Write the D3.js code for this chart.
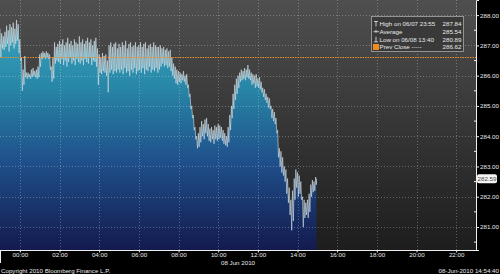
<!DOCTYPE html>
<html><head><meta charset="utf-8">
<script src="https://cdn.jsdelivr.net/npm/d3@7"></script>
<style>html,body{margin:0;padding:0;background:#000;overflow:hidden}svg{display:block}</style>
</head><body><svg id="c" width="500" height="274"></svg>
<script>
// ---- data (5-minute buckets starting 2010-06-07 23:00) ----
const startTime = "2010-06-07T23:00:00";
const stepMinutes = 5;
const highs = [
 287.55,287.40,287.30,287.45,287.65,287.50,287.70,287.60,287.75,287.55,287.84,287.70,
 287.20,286.60,286.20,286.65,286.10,286.10,286.05,286.20,286.25,286.15,286.20,286.30,
 286.70,286.75,286.80,286.75,286.80,286.75,286.70,286.30,286.60,287.10,286.95,287.05,
 287.15,287.05,287.20,287.00,287.10,287.25,287.05,287.15,287.00,287.20,287.10,287.05,
 287.30,287.10,287.20,287.05,287.15,287.25,287.10,287.20,287.00,287.15,287.25,286.90,
 286.70,286.60,286.75,286.65,286.70,286.50,287.00,287.10,286.95,287.05,287.10,286.90,
 287.05,286.95,287.10,287.00,287.15,286.90,287.05,287.10,286.95,287.00,287.10,286.95,
 287.00,287.10,286.95,287.05,287.10,286.90,287.00,287.05,286.95,287.10,287.00,286.95,
 286.95,287.00,286.90,286.95,286.85,286.90,286.80,286.85,286.60,286.40,286.30,286.20,
 286.15,286.10,286.05,286.15,286.00,286.05,285.70,285.40,285.00,284.70,284.30,284.00,
 284.10,284.30,284.50,284.40,284.55,284.60,284.40,284.25,284.30,284.20,284.35,284.30,
 284.40,284.35,284.30,284.20,284.10,284.00,284.30,284.70,285.00,285.40,285.70,285.90,
 286.00,286.10,286.20,286.15,286.25,286.20,286.35,286.20,286.10,286.05,286.00,286.05,
 285.90,285.95,285.80,285.60,285.55,285.40,285.30,285.25,285.00,284.90,284.80,284.60,
 284.20,283.60,283.50,283.30,283.00,282.90,282.60,282.30,281.90,282.20,282.60,282.90,
 282.80,282.70,282.50,282.00,281.90,281.80,281.90,282.10,282.40,282.55,282.50,282.65
];
const lows = [
 286.60,286.90,286.85,286.95,287.05,286.80,287.00,287.10,286.90,287.05,287.15,286.75,
 286.50,285.50,285.70,285.95,285.90,285.95,285.90,285.95,286.00,285.95,285.90,285.95,
 286.30,286.55,286.60,286.55,286.60,286.55,286.20,285.80,285.90,286.40,286.50,286.45,
 286.40,286.55,286.35,286.50,286.30,286.45,286.60,286.40,286.50,286.35,286.55,286.45,
 286.40,286.50,286.35,286.55,286.45,286.40,286.60,286.35,286.50,286.45,286.30,285.70,
 286.10,286.05,286.15,286.10,286.00,285.45,286.10,286.20,286.05,286.15,286.10,286.20,
 286.10,286.20,286.05,286.25,286.10,286.15,286.00,286.20,286.10,286.25,286.05,286.15,
 286.20,286.10,286.25,286.05,286.20,286.15,286.30,286.10,286.20,286.15,286.25,286.10,
 286.20,286.30,286.40,286.30,286.35,286.25,286.30,286.15,286.00,285.90,285.75,285.70,
 285.80,285.75,285.85,285.80,285.70,285.60,285.30,284.90,284.60,284.20,283.90,283.60,
 283.65,283.80,284.00,283.90,284.10,284.00,283.85,283.80,283.90,283.75,283.90,283.85,
 283.90,283.95,283.85,283.75,283.70,283.65,283.80,284.20,284.60,284.90,285.20,285.40,
 285.60,285.80,285.85,285.90,285.85,285.95,285.90,285.85,285.70,285.75,285.60,285.65,
 285.60,285.55,285.45,285.30,285.20,285.10,284.95,284.90,284.60,284.50,284.40,284.10,
 283.30,283.00,282.80,282.70,282.50,282.10,281.80,281.40,280.89,281.20,281.90,282.30,
 282.00,282.10,281.90,281.00,281.30,281.40,281.30,281.50,282.00,282.15,282.20,282.40
];
const lastPrice = 282.59;
const prevClose = 286.62;
const yTickValues = [281, 282, 283, 284, 285, 286, 287, 288];
const yMinorValues = [280.5, 281.5, 282.5, 283.5, 284.5, 285.5, 286.5, 287.5];
const xDomain = ["2010-06-07T23:00:00", "2010-06-08T23:00:00"];
const legendLabels = ["High on 06/07 23:55", "Average", "Low on 06/08 13:40", "Prev Close -----"];
const legendValues = ["287.84", "285.54", "280.89", "286.62"];
const dateLabel = "08 Jun 2010";
const copyrightText = "Copyright 2010 Bloomberg Finance L.P.";
const stampText = "08-Jun-2010 14:54:40";

// ---- layout ----
const W = 476, H = 250;
const svg = d3.select("#c");
const FONT = "'Liberation Sans', Arial, sans-serif";
const FS = 6.2;

const x = d3.scaleTime().domain(xDomain.map(d => new Date(d))).range([0, W]);
const y = d3.scaleLinear().domain([280.24, 288.5]).range([H, 0]);

const t0 = new Date(startTime);
const pts = [];
highs.forEach((h, i) => {
  const t = d3.timeMinute.offset(t0, i * stepMinutes);
  pts.push({t: t, v: h});
  pts.push({t: new Date(+t + stepMinutes * 30000), v: lows[i]});
});
pts.push({t: d3.timeMinute.offset(t0, highs.length * stepMinutes - 3), v: lastPrice});

const defs = svg.append("defs");
const bg = defs.append("linearGradient").attr("id", "bg").attr("x1", 0).attr("y1", 0).attr("x2", 0).attr("y2", 1);
bg.append("stop").attr("offset", 0).attr("stop-color", "#4f4f4f");
bg.append("stop").attr("offset", 1).attr("stop-color", "#1d1d1d");
const ag = defs.append("linearGradient").attr("id", "ag").attr("gradientUnits", "userSpaceOnUse")
  .attr("x1", 0).attr("y1", 0).attr("x2", 0).attr("y2", H);
[[0, "#3fb0c8"], [0.35, "#2886a6"], [0.65, "#1f4f8a"], [1, "#131a4e"]].forEach(s =>
  ag.append("stop").attr("offset", s[0]).attr("stop-color", s[1]));

svg.append("rect").attr("x", 0).attr("y", 0).attr("width", W).attr("height", H).attr("fill", "url(#bg)");

// area + line
svg.append("path").datum(pts)
  .attr("d", d3.area().x(d => x(d.t)).y0(H).y1(d => y(d.v)))
  .attr("fill", "url(#ag)");
svg.append("path").datum(pts)
  .attr("d", d3.line().x(d => x(d.t)).y(d => y(d.v)))
  .attr("fill", "none").attr("stroke", "#d6e4ea").attr("stroke-width", 0.7).attr("stroke-opacity", 0.85);

// gridlines
const xTicks = d3.timeHour.every(2).range(new Date("2010-06-08T00:00:00"), new Date("2010-06-08T23:00:00"));
const g = svg.append("g").attr("stroke", "#ffffff").attr("stroke-opacity", 0.35).attr("stroke-dasharray", "1,2").attr("stroke-width", 0.8);
xTicks.forEach(t => g.append("line").attr("x1", Math.round(x(t)) + 0.5).attr("x2", Math.round(x(t)) + 0.5).attr("y1", 0).attr("y2", H));
yTickValues.forEach(v => g.append("line").attr("x1", 0).attr("x2", W).attr("y1", Math.round(y(v)) + 0.5).attr("y2", Math.round(y(v)) + 0.5));

// prev close
svg.append("line").attr("x1", 0).attr("x2", W).attr("y1", Math.round(y(prevClose)) + 0.5).attr("y2", Math.round(y(prevClose)) + 0.5)
  .attr("stroke", "#e8902a").attr("stroke-width", 1).attr("stroke-dasharray", "1.5,1");

// right axis
const ya = svg.append("g").attr("transform", `translate(${W},0)`)
  .call(d3.axisRight(y).tickValues(yTickValues).tickFormat(d3.format(".2f")).tickSize(3).tickPadding(1));
ya.select(".domain").attr("stroke", "#eee");
ya.selectAll(".tick line").attr("stroke", "#eee");
ya.selectAll("text").attr("fill", "#e8e8e8").attr("font-family", FONT).attr("font-size", FS);
yMinorValues.forEach(v => svg.append("line").attr("x1", W - 2).attr("x2", W + 1).attr("y1", y(v)).attr("y2", y(v)).attr("stroke", "#eee"));

// bottom axis
const xa = svg.append("g").attr("transform", `translate(0,${H})`)
  .call(d3.axisBottom(x).tickValues(xTicks).tickFormat(d3.timeFormat("%H:%M")).tickSize(0).tickPadding(2.5));
xa.select(".domain").remove();
xa.selectAll("text").attr("fill", "#e8e8e8").attr("font-family", FONT).attr("font-size", FS);
svg.append("line").attr("x1", 0).attr("x2", W + 1).attr("y1", H + 0.5).attr("y2", H + 0.5).attr("stroke", "#eee");
d3.timeHour.every(2).range(new Date("2010-06-07T23:00:00"), new Date("2010-06-08T23:00:00")).forEach(t =>
  svg.append("line").attr("x1", x(t) + 0.5).attr("x2", x(t) + 0.5).attr("y1", H).attr("y2", H + 2.5).attr("stroke", "#eee"));
svg.append("line").attr("x1", 0.5).attr("x2", 0.5).attr("y1", H).attr("y2", H + 13).attr("stroke", "#eee");

svg.append("text").attr("x", x(new Date("2010-06-08T11:00:00"))).attr("y", 265).attr("text-anchor", "middle")
  .attr("fill", "#e8e8e8").attr("font-family", FONT).attr("font-size", FS).text(dateLabel);
svg.append("text").attr("x", 1).attr("y", 272.5).attr("fill", "#e8e8e8").attr("font-family", FONT).attr("font-size", FS).text(copyrightText);
svg.append("text").attr("x", 499).attr("y", 272.5).attr("text-anchor", "end").attr("fill", "#e8e8e8").attr("font-family", FONT).attr("font-size", FS).text(stampText);

// last price label
const ly = y(lastPrice);
svg.append("rect").attr("x", W + 1).attr("y", ly - 4.5).attr("width", 20).attr("height", 9).attr("rx", 2).attr("fill", "#f4f4f4");
svg.append("text").attr("x", W + 11).attr("y", ly + 2.3).attr("text-anchor", "middle").attr("fill", "#444")
  .attr("font-family", FONT).attr("font-size", FS).text(lastPrice.toFixed(2));

// legend
const lg = svg.append("g");
lg.append("rect").attr("x", 371.5).attr("y", 16.5).attr("width", 92).attr("height", 35).attr("fill", "#373737").attr("fill-opacity", 0.9).attr("stroke", "#a8a8a8").attr("stroke-width", 0.8);
const rowY = [24, 31.7, 39.3, 47];
legendLabels.forEach((s, i) => {
  lg.append("text").attr("x", 379.5).attr("y", rowY[i] + 2.3).attr("fill", "#e8e8e8").attr("font-family", FONT).attr("font-size", FS).text(s);
  lg.append("text").attr("x", 461.5).attr("y", rowY[i] + 2.3).attr("text-anchor", "end").attr("fill", "#e8e8e8").attr("font-family", FONT).attr("font-size", FS).text(legendValues[i]);
});
const sym = lg.append("g").attr("stroke", "#e8e8e8").attr("stroke-width", 0.8);
sym.append("line").attr("x1", 374).attr("x2", 378).attr("y1", rowY[0] - 2.5).attr("y2", rowY[0] - 2.5);
sym.append("line").attr("x1", 376).attr("x2", 376).attr("y1", rowY[0] - 2.5).attr("y2", rowY[0] + 2.5);
sym.append("line").attr("x1", 373.5).attr("x2", 379).attr("y1", rowY[1]).attr("y2", rowY[1]);
sym.append("line").attr("x1", 376).attr("x2", 376).attr("y1", rowY[1] - 2).attr("y2", rowY[1] + 1);
sym.append("line").attr("x1", 374).attr("x2", 378).attr("y1", rowY[2] + 2.5).attr("y2", rowY[2] + 2.5);
sym.append("line").attr("x1", 376).attr("x2", 376).attr("y1", rowY[2] - 2.5).attr("y2", rowY[2] + 2.5);
lg.append("rect").attr("x", 373).attr("y", rowY[3] - 3).attr("width", 6).attr("height", 6).attr("fill", "#f08c1c");
</script></body></html>
